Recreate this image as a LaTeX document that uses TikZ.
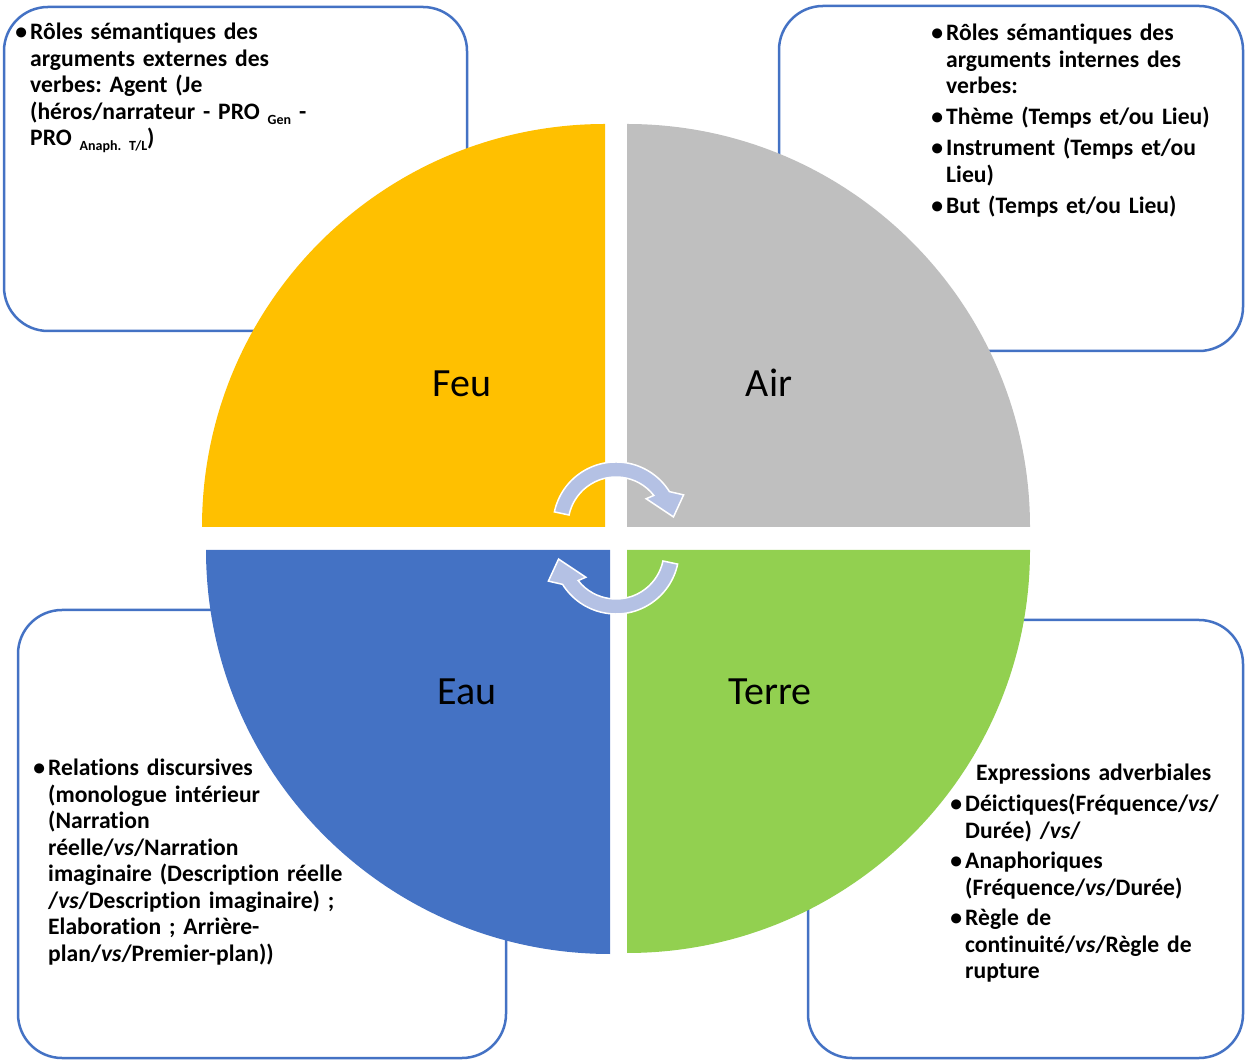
\documentclass[tikz,border=0pt]{standalone}
\usepackage{fontspec}
\setmainfont{Carlito}[Ligatures=NoCommon]
\definecolor{feu}{HTML}{FFC000}
\definecolor{air}{HTML}{BFBFBF}
\definecolor{eau}{HTML}{4472C4}
\definecolor{terre}{HTML}{92D050}
\definecolor{boxblue}{HTML}{4472C4}
\definecolor{arrowfill}{RGB}{180,193,228}
\newcommand{\bul}{\leavevmode\llap{•\hspace{3pt}}}
\newcommand{\subtxt}[1]{\raisebox{-5pt}{\fontsize{14}{14}\selectfont #1}}
\begin{document}
\begin{tikzpicture}[x=1pt,y=1pt,
  box/.style={draw=boxblue, line width=2.5pt, rounded corners=44pt, fill=white},
  txt/.style={anchor=base west, inner sep=0pt, text width=420pt, align=left,
    font=\fontsize{23.6}{26.5}\selectfont\bfseries\frenchspacing},
  lbl/.style={anchor=base, inner sep=0pt, font=\fontsize{40}{40}\selectfont},
  cyc/.style={fill=arrowfill, draw=white, line width=1.5pt, line join=miter}]
\useasboundingbox (0,0) rectangle (1252,1060);

% text boxes
\draw[box] (4,729) rectangle (467,1053);
\draw[box] (779,709) rectangle (1243,1054);
\draw[box] (18,2) rectangle (506,450);
\draw[box] (808,2) rectangle (1243,440);

% quadrants
\fill[feu] (605,533) -- (605,936) arc[start angle=90, end angle=180, radius=403] -- cycle;
\fill[air] (627,533) -- (1030,533) arc[start angle=0, end angle=90, radius=403] -- cycle;
\fill[eau] (610,510) -- (206,510) arc[start angle=180, end angle=270, radius=404] -- cycle;
\fill[terre] (627,510) -- (627,107) arc[start angle=270, end angle=360, radius=403] -- cycle;

% cycle arrows
\coordinate (ca) at (616,535);
\coordinate (cb) at (616,509);
\draw[cyc] ([shift={(ca)}]168:63) arc[start angle=168, end angle=32, radius=63]
  -- ([shift={(ca)}]24:74) -- ([shift={(ca)}]8:58) -- ([shift={(ca)}]41:40)
  -- ([shift={(ca)}]38:48) arc[start angle=38, end angle=168, radius=48] -- cycle;
\draw[cyc] ([shift={(cb)}]-12:63) arc[start angle=-12, end angle=-148, radius=63]
  -- ([shift={(cb)}]-156:74) -- ([shift={(cb)}]-172:58) -- ([shift={(cb)}]-139:40)
  -- ([shift={(cb)}]-142:48) arc[start angle=-142, end angle=-12, radius=48] -- cycle;

% quadrant labels
\node[lbl] (feulbl) at (462,663) {Feu};
\node[lbl] (airlbl) at (769,663) {Air};
\node[lbl] (eaulbl) at (467,355) {Eau};
\node[lbl] (terrelbl) at (770,355) {Terre};

% texts
\node[txt] (tl) at (30,1020) {\bul Rôles sémantiques des\\
arguments externes des\\
verbes: Agent (Je\\
(héros/narrateur - PRO \subtxt{Gen} -\\
PRO \subtxt{Anaph. T/L})};

\node[txt] (tr) at (946,1019) {\bul Rôles sémantiques des\\
arguments internes des\\
verbes:\\[4.5pt]
\bul Thème (Temps et/ou Lieu)\\[4.5pt]
\bul Instrument (Temps et/ou\\
Lieu)\\[4.5pt]
\bul But (Temps et/ou Lieu)};

\node[txt] (bl) at (48,284) {\bul Relations discursives\\
(monologue intérieur\\
(Narration\\
réelle/\textit{vs}/Narration\\
imaginaire (Description réelle\\
/\textit{vs}/Description imaginaire) ;\\
Elaboration ; Arrière-\\
plan/\textit{vs}/Premier-plan))};

\node[txt] (brh) at (976,279) {Expressions adverbiales};
\node[txt] (br) at (965,248) {\bul Déictiques(Fréquence/\textit{vs}/\\
Durée) /\textit{vs}/\\[4pt]
\bul Anaphoriques\\
(Fréquence/\textit{vs}/Durée)\\[4pt]
\bul Règle de\\
continuité/\textit{vs}/Règle de\\
rupture};
\end{tikzpicture}
\end{document}
